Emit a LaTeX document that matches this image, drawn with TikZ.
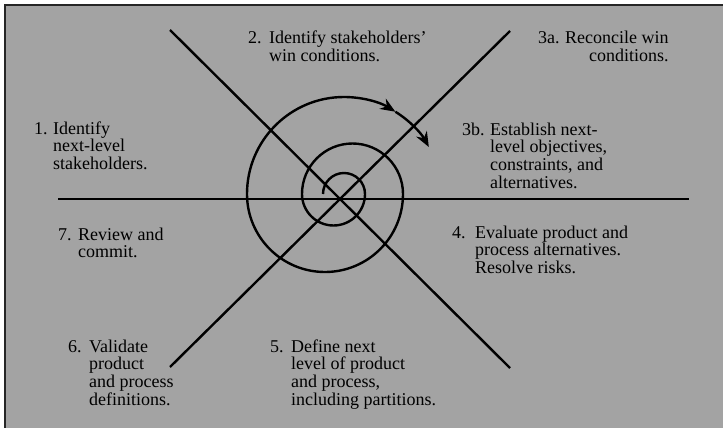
\documentclass[tikz,border=0pt]{standalone}
\usepackage{fontspec}
\setmainfont{Liberation Serif}
\usetikzlibrary{arrows.meta}
\definecolor{bggray}{RGB}{163,163,163}
\begin{document}
\begin{tikzpicture}[x=1pt,y=-1pt,
  axis/.style={line width=2.4pt},
  spir/.style={line width=2.4pt},
  lbl/.style={anchor=base west, inner sep=0pt, font=\fontsize{18}{17.7}\selectfont},
  tipped/.style={-{Stealth[length=15pt,width=12pt]}}]
\useasboundingbox (0,0) rectangle (723,428);
\fill[bggray] (5,5) rectangle (723,428);
\draw[line width=1.5pt, black!85] (5,428) -- (5,5) -- (723,5);
% axes
\coordinate (hl) at (58,199);
\coordinate (hr) at (689,199);
\coordinate (nw) at (170,30);
\coordinate (se) at (510,368);
\coordinate (ne) at (510,31);
\coordinate (sw) at (170,367);
\draw[axis] (hl) -- (hr);
\draw[axis] (nw) -- (se);
\draw[axis] (ne) -- (sw);
% spiral
\coordinate (s0) at (323,194);
\draw[spir, tipped] (s0) arc[start angle=180, end angle=360, radius=21]
  arc[start angle=0, end angle=180, radius=31.5]
  arc[start angle=180, end angle=360, radius=50.5]
  arc[start angle=0, end angle=180, radius=78]
  arc[start angle=180, end angle=302, radius=97] coordinate (mid);
\draw[spir, tipped] (mid) arc[start angle=302, end angle=331, radius=97];
% labels
\node[lbl] (t1) at (34,134) {\begin{tabular}[t]{@{}p{19pt}@{}l@{}}1. & Identify\\ & next-level\\ & stakeholders.\end{tabular}};
\node[lbl] (t2) at (248,44) {\begin{tabular}[t]{@{}p{21pt}@{}l@{}}2. & Identify stakeholders'\\ & win conditions.\end{tabular}};
\node[lbl] (t3a) at (538,44) {\begin{tabular}[t]{@{}p{27pt}@{}r@{}}3a. & Reconcile win\\ & conditions.\end{tabular}};
\node[lbl] (t3b) at (462,135) {\begin{tabular}[t]{@{}p{28pt}@{}l@{}}3b. & Establish next-\\ & level objectives,\\ & constraints, and\\ & alternatives.\end{tabular}};
\node[lbl] (t4) at (452,238) {\begin{tabular}[t]{@{}p{23pt}@{}l@{}}4. & Evaluate product and\\ & process alternatives.\\ & Resolve risks.\end{tabular}};
\node[lbl] (t7) at (58,240) {\begin{tabular}[t]{@{}p{20pt}@{}l@{}}7. & Review and\\ & commit.\end{tabular}};
\node[lbl] (t6) at (68,352) {\begin{tabular}[t]{@{}p{21pt}@{}l@{}}6. & Validate\\ & product\\ & and process\\ & definitions.\end{tabular}};
\node[lbl] (t5) at (270,352) {\begin{tabular}[t]{@{}p{21pt}@{}l@{}}5. & Define next\\ & level of product\\ & and process,\\ & including partitions.\end{tabular}};
\end{tikzpicture}
\end{document}
